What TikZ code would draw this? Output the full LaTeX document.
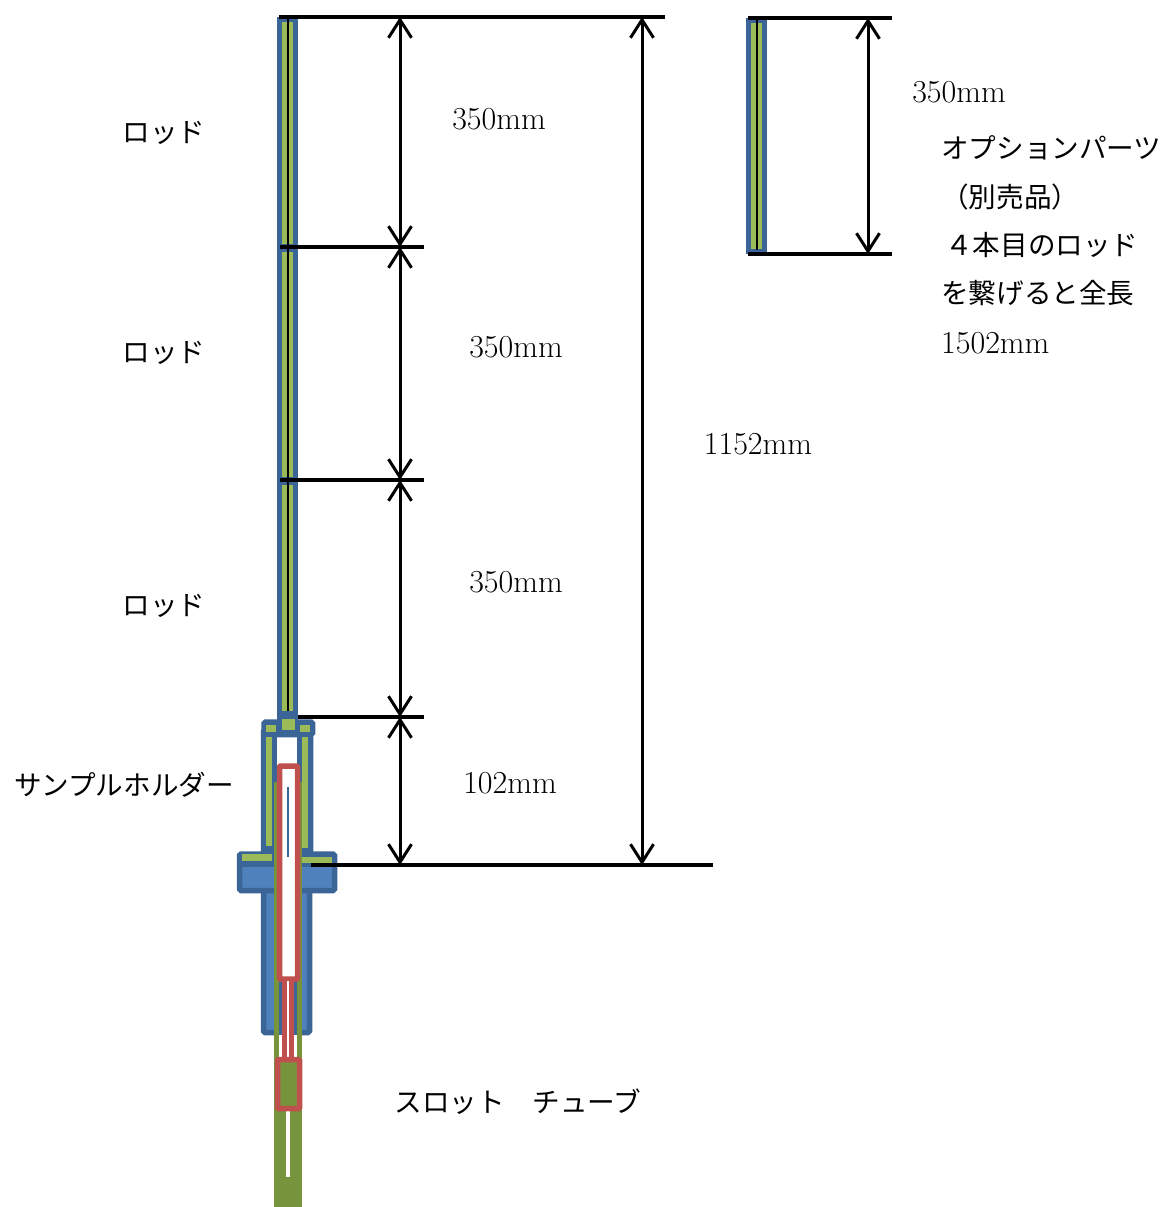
\documentclass[tikz,border=0pt]{standalone}
\usepackage{fontspec}
\newfontfamily\jpfont{Noto Sans CJK JP}
\usetikzlibrary{arrows.meta}

\definecolor{rodblue}{HTML}{3B6597}
\definecolor{fillblue}{HTML}{4F81BD}
\definecolor{rodgreen}{HTML}{9BBB59}
\definecolor{tubegreen}{HTML}{77933C}
\definecolor{holdred}{HTML}{C0504D}

\tikzset{
  rodline/.style={draw=rodblue, line width=5.5pt, fill=rodgreen},
  bluebox/.style={draw=rodblue, line width=5.5pt, fill=fillblue, rounded corners=1.5pt},
  greenbar/.style={fill=rodgreen},
  redbox/.style={draw=holdred, line width=5.5pt, rounded corners=1pt},
  limit/.style={black, line width=3.4pt},
  measure/.style={black, line width=3pt, {Straight Barb[length=18pt,width=23pt]}-{Straight Barb[length=18pt,width=23pt]}},
  jp/.style={font=\fontsize{27.6}{30}\selectfont\jpfont, inner sep=0pt},
  dim/.style={font=\fontsize{32}{30}\selectfont, inner sep=0pt}
}

\begin{document}
\begin{tikzpicture}[x=1pt, y=-1pt]
  \useasboundingbox (0,0) rectangle (1166,1207);

  % rods
  \foreach \ya/\yb in {17/247, 247/480, 480/716}
    \draw[rodline] (279.5,\ya+2.5) rectangle (295.5,\yb);
  \draw[black, line width=1.4pt] (288,18) -- (288,714);
  \draw[rodline] (748.5,20.5) rectangle (764.5,251.5);
  \draw[black, line width=1.4pt] (757,19) -- (757,250);

  % holder, lower part and flange
  \draw[bluebox] (263.5,880) rectangle (309.5,1032.5);
  \draw[bluebox, fill=rodblue] (263.5,730) rectangle (310.5,880);
  \fill[white] (277,735) rectangle (297,790);
  \draw[bluebox] (239.5,854) rectangle (334.5,890.5);
  \fill[rodblue] (239.5,852) rectangle (334.5,867);
  \draw[bluebox, fill=rodblue] (264,722) rectangle (312.5,734.5);
  \draw[rodblue, line width=5.5pt, fill=rodblue] (279.5,714) rectangle (295.5,722);
  \fill[greenbar] (266,725) rectangle (276,732);
  \fill[greenbar] (300,725) rectangle (310,732);
  \fill[greenbar] (282,719) rectangle (295,730);
  \fill[greenbar] (266,737) rectangle (272,846);
  \fill[greenbar] (302,737) rectangle (308,848);
  \fill[greenbar] (242,854) rectangle (272,861);
  \fill[greenbar] (302,857) rectangle (332,863);

  % tube
  \fill[tubegreen] (274,782) rectangle (302,1207);
  \fill[rodblue] (279,981) rectangle (297,1035);
  \fill[white] (279,1035) rectangle (297,1057);
  \fill[white] (286,1111) rectangle (290,1177);
  \draw[redbox, fill=white] (279.5,766) rectangle (297.5,979);
  \fill[holdred] (282,981) rectangle (294,1057);
  \fill[white] (287.2,981) rectangle (288.8,1057);
  \draw[redbox, fill=tubegreen] (277.5,1059.5) rectangle (299.5,1108.5);
  \draw[rodblue, line width=1.8pt] (288,787) -- (288,857);

  % measures
  \coordinate (topL)  at (279,17);   \coordinate (topR)  at (665,17);
  \coordinate (j1L)   at (280,247);  \coordinate (j1R)   at (424,247);
  \coordinate (j2L)   at (280,480);  \coordinate (j2R)   at (424,480);
  \coordinate (j3L)   at (298,717);  \coordinate (j3R)   at (424,717);
  \coordinate (baseL) at (311,865);  \coordinate (baseR) at (713,865);
  \coordinate (optTL) at (748,18);   \coordinate (optTR) at (892,18);
  \coordinate (optBL) at (748,254);  \coordinate (optBR) at (892,254);
  \coordinate (m0) at (400,17);  \coordinate (m1) at (400,247);
  \coordinate (m2) at (400,480); \coordinate (m3) at (400,717);
  \coordinate (m4) at (400,865);
  \coordinate (allT) at (642,17); \coordinate (allB) at (642,865);
  \coordinate (optT) at (868,18); \coordinate (optB) at (868,254);

  \draw[limit] (topL) -- (topR);
  \draw[limit] (j1L) -- (j1R);
  \draw[limit] (j2L) -- (j2R);
  \draw[limit] (j3L) -- (j3R);
  \draw[limit] (baseL) -- (baseR);
  \draw[limit] (optTL) -- (optTR);
  \draw[limit] (optBL) -- (optBR);

  \draw[measure] (m0) -- (m1);
  \draw[measure] (m1) -- (m2);
  \draw[measure] (m2) -- (m3);
  \draw[measure] (m3) -- (m4);
  \draw[measure] (allT) -- (allB);
  \draw[measure] (optT) -- (optB);

  % labels
  \node[jp] (rodA) at (164,133) {ロッド};
  \node[jp] (rodB) at (164,353) {ロッド};
  \node[jp] (rodC) at (164,606) {ロッド};
  \node[jp] (holder) at (124,785) {サンプルホルダー};
  \node[jp] (slot) at (518,1102) {スロット　チューブ};
  \node[dim] (lenA) at (499,119) {350mm};
  \node[dim] (lenB) at (516,347) {350mm};
  \node[dim] (lenC) at (516,582) {350mm};
  \node[dim] (lenD) at (510,783) {102mm};
  \node[dim] (lenAll) at (758,444) {1152mm};
  \node[dim] (lenOpt) at (959,92) {350mm};
  \node[jp, anchor=west] (optA) at (941,148) {オプションパーツ};
  \node[jp, anchor=west] (optB2) at (941,197) {（別売品）};
  \node[jp, anchor=west] (optC) at (945,245) {４本目のロッド};
  \node[jp, anchor=west] (optD) at (941,293) {を繋げると全長};
  \node[dim, anchor=west] (optE) at (941,343) {1502mm};
\end{tikzpicture}
\end{document}
